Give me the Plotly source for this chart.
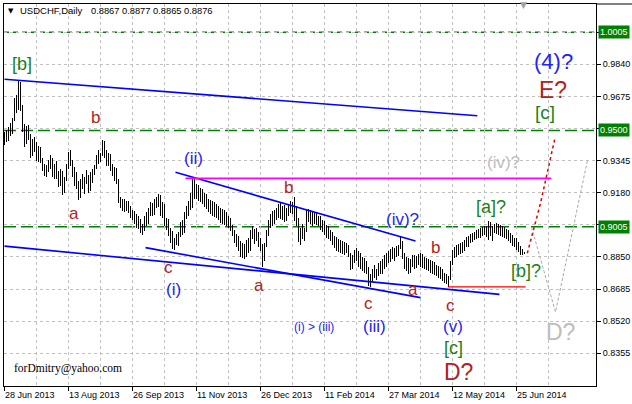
import plotly.graph_objects as go

# ---------------- data ----------------
opens = [
    .9440, .9470, .9455, .9505, .9485, .9555, .9645, .9610, .9730, .9615,
    .9505, .9440, .9510, .9465, .9385, .9440, .9400, .9360, .9400, .9350,
    .9305, .9280, .9310, .9340, .9320, .9275, .9315, .9265, .9230, .9280,
    .9190, .9245, .9320, .9370, .9335, .9280, .9240, .9225, .9165, .9235,
    .9210, .9250, .9240, .9200, .9275, .9290, .9310, .9360, .9345, .9375,
    .9430, .9380, .9340, .9370, .9305, .9280, .9300, .9240, .9140, .9120,
    .9135, .9095, .9125, .9090, .9065, .9080, .9035, .9055, .9010, .8990,
    .9005, .9050, .9030, .9090, .9110, .9075, .9140, .9115, .9155, .9080,
    .9110, .9030, .9040, .8975, .8940, .8905, .8935, .8920, .8965, .9020,
    .8985, .9070, .9095, .9130, .9105, .9235, .9170, .9210, .9160, .9190,
    .9140, .9165, .9110, .9135, .9090, .9120, .9075, .9105, .9060, .9085,
    .9040, .9070, .9025, .9045, .9000, .8975, .8935, .8955, .8895, .8870,
    .8905, .8860, .8925, .8890, .8975, .8960, .8985, .8945, .8920, .8895,
    .8840, .8910, .8975, .9025, .9055, .9030, .9075, .9060, .9105, .9065,
    .9095, .9050, .9085, .9110, .9090, .9120, .9055, .9030, .8950, .8985,
    .8960, .8990, .9080, .9045, .9075, .9030, .9065, .9035, .9050, .9005,
    .9025, .8980, .9000, .8955, .8970, .8925, .8945, .8900, .8925, .8890,
    .8915, .8880, .8905, .8865, .8800, .8850, .8870, .8845, .8860, .8805,
    .8835, .8790, .8780, .8720, .8745, .8775, .8760, .8780, .8800, .8775,
    .8830, .8810, .8860, .8840, .8880, .8860, .8885, .8870, .8900, .8920,
    .8855, .8810, .8835, .8790, .8825, .8845, .8810, .8840, .8830, .8855,
    .8815, .8835, .8800, .8825, .8790, .8815, .8770, .8795, .8760, .8785,
    .8745, .8730, .8740, .8735, .8820, .8870, .8860, .8895, .8875, .8905,
    .8890, .8925, .8910, .8950, .8935, .8965, .8950, .8980, .8965, .8990,
    .8975, .9000, .8970, .9020, .8975, .8995, .9010, .8985, .9005, .8975,
    .8995, .8960, .8985, .8945, .8960, .8920, .8935, .8900, .8890, .8870,
    .8867,
]
highs = [
    .9490, .9505, .9520, .9540, .9565, .9665, .9680, .9752, .9748, .9630,
    .9535, .9525, .9530, .9480, .9455, .9465, .9440, .9420, .9415, .9360,
    .9330, .9325, .9350, .9372, .9360, .9330, .9345, .9290, .9300, .9290,
    .9260, .9330, .9390, .9400, .9350, .9310, .9285, .9240, .9250, .9275,
    .9260, .9295, .9270, .9285, .9300, .9322, .9374, .9400, .9385, .9451,
    .9445, .9399, .9385, .9380, .9330, .9310, .9305, .9250, .9160, .9150,
    .9150, .9140, .9140, .9110, .9090, .9085, .9070, .9060, .9045, .9020,
    .9060, .9080, .9100, .9130, .9125, .9150, .9160, .9175, .9170, .9130,
    .9120, .9050, .9045, .9000, .8985, .8950, .8970, .8980, .9030, .9040,
    .9080, .9110, .9140, .9180, .9250, .9255, .9225, .9220, .9205, .9200,
    .9180, .9175, .9150, .9145, .9140, .9130, .9120, .9110, .9100, .9095,
    .9090, .9080, .9060, .9050, .9015, .8990, .8970, .8960, .8930, .8920,
    .8915, .8935, .8950, .8990, .9010, .8995, .9000, .8980, .8950, .8915,
    .8920, .8990, .9040, .9070, .9085, .9090, .9100, .9120, .9125, .9110,
    .9115, .9100, .9120, .9140, .9130, .9160, .9110, .9050, .9000, .9020,
    .9000, .9090, .9095, .9090, .9085, .9080, .9075, .9060, .9060, .9040,
    .9035, .9015, .9010, .8990, .8980, .8960, .8955, .8940, .8935, .8930,
    .8925, .8920, .8910, .8870, .8860, .8885, .8895, .8880, .8870, .8850,
    .8845, .8830, .8800, .8760, .8790, .8810, .8790, .8820, .8830, .8840,
    .8860, .8870, .8880, .8890, .8900, .8895, .8905, .8910, .8955, .8930,
    .8870, .8850, .8845, .8840, .8860, .8860, .8855, .8865, .8870, .8865,
    .8850, .8845, .8840, .8835, .8830, .8825, .8810, .8805, .8800, .8790,
    .8770, .8760, .8750, .8830, .8885, .8900, .8910, .8915, .8920, .8925,
    .8935, .8955, .8960, .8970, .8975, .8980, .8990, .8995, .9000, .9005,
    .9010, .9010, .9035, .9030, .9010, .9020, .9025, .9020, .9015, .9010,
    .9005, .8995, .8990, .8975, .8965, .8950, .8945, .8925, .8905, .8890,
    .8877,
]
lows = [
    .9425, .9440, .9445, .9470, .9480, .9550, .9590, .9605, .9600, .9490,
    .9415, .9430, .9450, .9360, .9370, .9390, .9345, .9340, .9335, .9290,
    .9265, .9262, .9285, .9300, .9260, .9250, .9250, .9210, .9215, .9168,
    .9180, .9240, .9300, .9320, .9260, .9215, .9200, .9142, .9155, .9200,
    .9175, .9225, .9180, .9190, .9230, .9270, .9300, .9330, .9340, .9370,
    .9360, .9320, .9315, .9290, .9265, .9240, .9225, .9125, .9100, .9085,
    .9080, .9085, .9075, .9050, .9040, .9020, .9000, .8995, .8975, .8962,
    .8985, .9010, .9020, .9060, .9060, .9065, .9100, .9105, .9060, .9050,
    .9010, .8990, .8960, .8920, .8890, .8885, .8910, .8905, .8955, .8965,
    .8975, .9045, .9060, .9090, .9100, .9150, .9150, .9140, .9130, .9120,
    .9105, .9095, .9080, .9070, .9060, .9055, .9050, .9040, .9025, .9020,
    .9015, .9010, .9000, .8985, .8960, .8920, .8900, .8880, .8850, .8845,
    .8840, .8850, .8870, .8880, .8940, .8915, .8930, .8900, .8880, .8798,
    .8830, .8900, .8960, .9000, .9010, .9020, .9040, .9050, .9045, .9040,
    .9030, .9035, .9060, .9075, .9070, .9035, .9010, .8925, .8910, .8940,
    .8930, .8980, .9030, .9020, .9010, .9020, .9015, .9010, .8990, .8980,
    .8965, .8950, .8940, .8930, .8910, .8895, .8880, .8875, .8870, .8865,
    .8860, .8870, .8850, .8783, .8790, .8820, .8830, .8800, .8790, .8780,
    .8770, .8760, .8700, .8695, .8720, .8740, .8730, .8750, .8760, .8765,
    .8790, .8800, .8820, .8825, .8840, .8830, .8850, .8855, .8890, .8840,
    .8790, .8780, .8765, .8770, .8800, .8790, .8795, .8810, .8800, .8795,
    .8790, .8785, .8780, .8770, .8765, .8755, .8750, .8740, .8735, .8725,
    .8715, .8710, .8696, .8730, .8810, .8845, .8850, .8860, .8865, .8870,
    .8880, .8900, .8900, .8920, .8925, .8935, .8940, .8950, .8950, .8960,
    .8965, .8955, .8935, .8960, .8930, .8975, .8970, .8965, .8960, .8955,
    .8945, .8940, .8930, .8920, .8905, .8900, .8885, .8875, .8860, .8860,
    .8865,
]
closes = [
    .9470, .9455, .9505, .9485, .9555, .9645, .9610, .9730, .9615, .9505,
    .9440, .9510, .9465, .9385, .9440, .9400, .9360, .9400, .9350, .9305,
    .9280, .9310, .9340, .9320, .9275, .9315, .9265, .9230, .9280, .9190,
    .9245, .9320, .9370, .9335, .9280, .9240, .9225, .9165, .9235, .9210,
    .9250, .9240, .9200, .9275, .9290, .9310, .9360, .9345, .9375, .9430,
    .9380, .9340, .9370, .9305, .9280, .9300, .9240, .9140, .9120, .9135,
    .9095, .9125, .9090, .9065, .9080, .9035, .9055, .9010, .8990, .9005,
    .9050, .9030, .9090, .9110, .9075, .9140, .9115, .9155, .9080, .9110,
    .9030, .9040, .8975, .8940, .8905, .8935, .8920, .8965, .9020, .8985,
    .9070, .9095, .9130, .9105, .9235, .9170, .9210, .9160, .9190, .9140,
    .9165, .9110, .9135, .9090, .9120, .9075, .9105, .9060, .9085, .9040,
    .9070, .9025, .9045, .9000, .8975, .8935, .8955, .8895, .8870, .8905,
    .8860, .8925, .8890, .8975, .8960, .8985, .8945, .8920, .8895, .8840,
    .8910, .8975, .9025, .9055, .9030, .9075, .9060, .9105, .9065, .9095,
    .9050, .9085, .9110, .9090, .9120, .9055, .9030, .8950, .8985, .8960,
    .8990, .9080, .9045, .9075, .9030, .9065, .9035, .9050, .9005, .9025,
    .8980, .9000, .8955, .8970, .8925, .8945, .8900, .8925, .8890, .8915,
    .8880, .8905, .8865, .8800, .8850, .8870, .8845, .8860, .8805, .8835,
    .8790, .8780, .8720, .8745, .8775, .8760, .8780, .8800, .8775, .8830,
    .8810, .8860, .8840, .8880, .8860, .8885, .8870, .8900, .8920, .8855,
    .8810, .8835, .8790, .8825, .8845, .8810, .8840, .8830, .8855, .8815,
    .8835, .8800, .8825, .8790, .8815, .8770, .8795, .8760, .8785, .8745,
    .8730, .8740, .8735, .8820, .8870, .8860, .8895, .8875, .8905, .8890,
    .8925, .8910, .8950, .8935, .8965, .8950, .8980, .8965, .8990, .8975,
    .9000, .8970, .9020, .8975, .8995, .9010, .8985, .9005, .8975, .8995,
    .8960, .8985, .8945, .8960, .8920, .8935, .8900, .8890, .8870, .8867,
    .8876,
]
bar_index = list(range(len(closes)))

date_ticks = [0, 32, 64, 96, 128, 160, 192, 224, 256]
date_labels = ["28 Jun 2013", "13 Aug 2013", "26 Sep 2013", "11 Nov 2013",
               "26 Dec 2013", "11 Feb 2014", "27 Mar 2014", "12 May 2014",
               "25 Jun 2014"]
minor_date_ticks = [16, 48, 80, 112, 144, 176, 208, 240, 272]

price_ticks = [0.8355, 0.8520, 0.8685, 0.8850, 0.9015, 0.9180, 0.9345,
               0.9510, 0.9675, 0.9840, 1.0005]
price_labels = ["0.8355", "0.8520", "0.8685", "0.8850", "", "0.9180",
                "0.9345", "", "0.9675", "0.9840", ""]

levels = [1.0005, 0.9500, 0.9005]
level_labels = ["1.0005", "0.9500", "0.9005"]

# drawn lines: bar index / price pairs
upper_channel_x, upper_channel_y = [0, 236.4], [0.9763, 0.9576]
lower_channel_x, lower_channel_y = [0, 247.5], [0.8906, 0.8658]
wave_i_iii_x, wave_i_iii_y = [70.5, 208], [0.8898, 0.8641]
wave_ii_iv_x, wave_ii_iv_y = [85.5, 205.5], [0.9285, 0.8932]
magenta_x, magenta_y = [90.5, 273.4], [0.9254, 0.9254]
red_level_x, red_level_y = [221.7, 260.5], [0.8696, 0.8696]
red_path_x, red_path_y = [261.4, 268, 275.2], [0.8869, 0.9126, 0.9460]
grey_path_x, grey_path_y = [263.5, 275.5, 291.5], [0.9004, 0.8567, 0.9348]

# wave labels
label_text = ["[b]", "b", "a", "(ii)", "b", "c", "(i)", "a", "(i) > (iii)",
              "c", "(iii)", "a", "c", "(v)", "[c]", "D?", "D?", "[b]?",
              "(iv)?", "b", "[a]?", "(iv)?", "(4)?", "E?", "[c]"]
label_x = [8.9, 45.5, 34.5, 94.5, 142, 82, 84.5, 127, 154.5,
           182, 185, 204, 222.75, 224, 224.5, 227, 278, 260.5,
           199, 215.5, 243, 249.5, 274.5, 274, 270]
label_y = [0.9844, 0.9569, 0.9071, 0.9358, 0.9209, 0.8798, 0.8685, 0.8701,
           0.8490, 0.8613, 0.8495, 0.8685, 0.8603, 0.8495, 0.8382, 0.8259,
           0.8464, 0.8778, 0.9045, 0.8901, 0.9107, 0.9333, 0.9857, 0.9708,
           0.9590]
label_kind = ["g", "r", "r", "b", "r", "r", "b", "r", "bs",
              "r", "b", "r", "r", "b", "g", "R", "G", "g",
              "b", "r", "g", "gr", "B", "R", "gl"]

RED = "#B22222"
BLUE = "#2323F5"
GREEN = "#1A7F1A"
GREY = "#BDBDBD"
kind_style = {
    "g": (GREEN, 18), "gl": (GREEN, 19), "r": (RED, 17), "R": (RED, 23),
    "b": (BLUE, 17), "bs": (BLUE, 12), "B": (BLUE, 22),
    "gr": (GREY, 17), "G": (GREY, 23),
}

FONT = "Liberation Sans, Arial, sans-serif"
GRID = "#C0C0C0"

fig = go.Figure()

fig.add_trace(go.Ohlc(
    x=bar_index, open=opens, high=highs, low=lows, close=closes,
    increasing=dict(line=dict(color="black", width=1)),
    decreasing=dict(line=dict(color="black", width=1)),
    tickwidth=0.05, hoverinfo="skip", showlegend=False,
))


def add_line(xs, ys, color, width=1.6, dash="solid"):
    fig.add_trace(go.Scatter(x=xs, y=ys, mode="lines",
                             line=dict(color=color, width=width, dash=dash),
                             hoverinfo="skip", showlegend=False))


add_line(upper_channel_x, upper_channel_y, "#0000FF")
add_line(lower_channel_x, lower_channel_y, "#0000FF")
add_line(wave_i_iii_x, wave_i_iii_y, "#0000FF")
add_line(wave_ii_iv_x, wave_ii_iv_y, "#0000FF")
add_line(magenta_x, magenta_y, "#FF00FF")
add_line(red_level_x, red_level_y, "#FF0000", width=1.2)
add_line(red_path_x, red_path_y, "#E00000", width=1.5, dash="3px,3px")
add_line(grey_path_x, grey_path_y, "#A8A8A8", width=1, dash="3px,2px")

shapes = []
level_dash = ["5px,4px", "12px,5px", "12px,5px"]
for lv, dsh in zip(levels, level_dash):
    shapes.append(dict(type="line", xref="paper", x0=0, x1=1, yref="y",
                       y0=lv, y1=lv, layer="below",
                       line=dict(color="#008000", width=1.5, dash=dsh)))
shapes.append(dict(type="line", xref="paper", x0=1, x1=1.07, yref="paper",
                   y0=1, y1=1, line=dict(color="black", width=1)))

annotations = []
for t, x, y, k in zip(label_text, label_x, label_y, label_kind):
    c, s = kind_style[k]
    annotations.append(dict(text=t, x=x, y=y, xref="x", yref="y",
                            showarrow=False, xanchor="center",
                            yanchor="middle",
                            font=dict(family=FONT, size=s, color=c)))

for tv, tl in zip(date_ticks, date_labels):
    annotations.append(dict(text=tl, x=tv, y=0, xref="x", yref="paper",
                            showarrow=False, xanchor="left", yanchor="top",
                            xshift=-2, yshift=-2,
                            font=dict(family=FONT, size=9, color="black")))

for lv, lt in zip(levels, level_labels):
    annotations.append(dict(text=lt, x=1, y=lv, xref="paper", yref="y",
                            showarrow=False, xanchor="left", yanchor="middle",
                            xshift=2, bgcolor="#008000", borderpad=1,
                            font=dict(family=FONT, size=9, color="white")))

annotations += [
    dict(text="▼", x=0.0118, y=0.9817, xref="paper", yref="paper",
         showarrow=False, xanchor="center", yanchor="middle",
         font=dict(family="DejaVu Sans", size=7, color="black")),
    dict(text="USDCHF,Daily", x=0.0248, y=0.9817, xref="paper", yref="paper",
         showarrow=False, xanchor="left", yanchor="middle", xshift=-1,
         font=dict(family=FONT, size=9.5, color="black")),
    dict(text="0.8867 0.8877 0.8865 0.8876", x=0.1453, y=0.9817,
         xref="paper", yref="paper", showarrow=False, xanchor="left",
         yanchor="middle", xshift=-1,
         font=dict(family=FONT, size=9.3, color="black")),
    dict(text="▼", x=0.8767, y=0.997, xref="paper", yref="paper",
         showarrow=False, xanchor="center", yanchor="middle",
         font=dict(family="DejaVu Sans", size=9, color="#A0A0A0")),
    dict(text="forDmitry@yahoo.com", x=0.0147, y=0.0471, xref="paper",
         yref="paper", showarrow=False, xanchor="left", yanchor="middle",
         xshift=-1,
         font=dict(family="Liberation Serif, Times New Roman, serif",
                   size=11.5, color="black")),
]

fig.update_layout(
    template="none",
    width=632, height=404,
    margin=dict(l=4, r=36, t=4, b=18),
    paper_bgcolor="white", plot_bgcolor="white",
    font=dict(family=FONT, size=9, color="black"),
    showlegend=False, hovermode=False,
    shapes=shapes, annotations=annotations,
    xaxis=dict(
        range=[-0.25, 295.75], tickmode="array", tickvals=date_ticks,
        showticklabels=False, ticks="outside", ticklen=4,
        tickcolor="black", tickwidth=1,
        showgrid=True, gridcolor=GRID, griddash="3px,3px", gridwidth=1,
        minor=dict(tickmode="array", tickvals=minor_date_ticks,
                   showgrid=True, gridcolor=GRID, griddash="3px,3px",
                   gridwidth=1, ticks=""),
        showline=True, linecolor="black", linewidth=1, mirror=True,
        zeroline=False, automargin=False, fixedrange=True,
        rangeslider=dict(visible=False),
    ),
    yaxis=dict(
        range=[0.8187, 1.0150], side="right", tickmode="array",
        tickvals=price_ticks, ticktext=price_labels,
        ticks="outside", ticklen=4, tickcolor="black", tickwidth=1,
        tickfont=dict(family=FONT, size=9, color="black"),
        showgrid=True, gridcolor=GRID, griddash="3px,3px", gridwidth=1,
        showline=True, linecolor="black", linewidth=1, mirror=True,
        zeroline=False, automargin=False, fixedrange=True,
    ),
)

post = (
    "document.body.style.margin='0';document.body.style.padding='0';"
    "document.querySelectorAll('.ohlc path').forEach(function(p){"
    "p.style.shapeRendering='crispEdges';});"
)
fig.write_html("out.html", post_script=post,
               config={"displayModeBar": False, "staticPlot": True})
